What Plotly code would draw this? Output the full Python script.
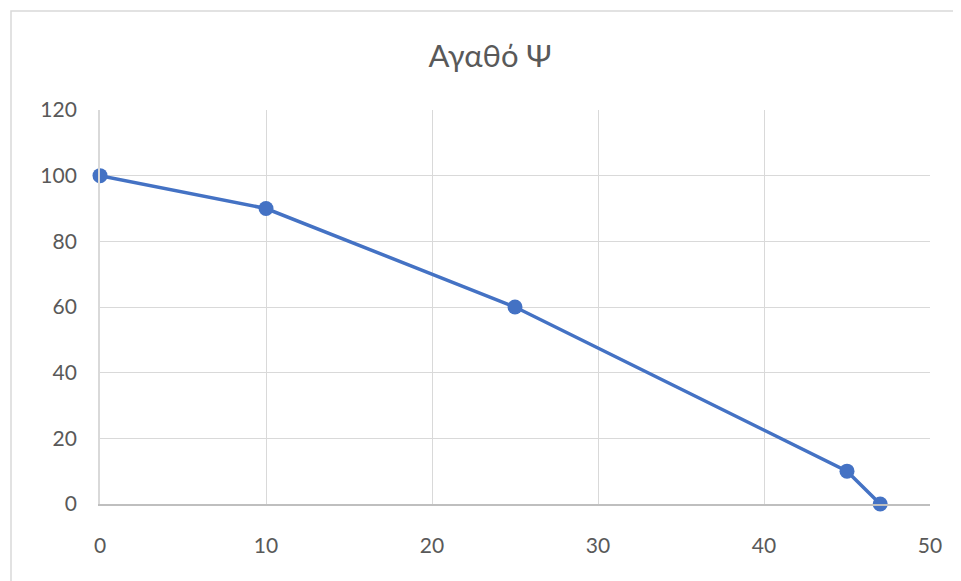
import plotly.graph_objects as go

x_vals = [0, 10, 25, 45, 47]
y_vals = [100, 90, 60, 10, 0]
title_text = "Αγαθό Ψ"

# page has an 8px body margin, so the figure is drawn 8px smaller and offset
OFF = 8
W, H = 961 - OFF, 581 - OFF
L, R, T, B = 100 - OFF, 31, 110 - OFF, 77
pw, ph = W - L - R, H - T - B

fig = go.Figure()
fig.add_trace(go.Scatter(
    x=x_vals, y=y_vals, mode="lines+markers",
    line=dict(color="#4472C4", width=3.5),
    marker=dict(color="#4472C4", size=15),
    cliponaxis=False,
))

def px_x(p):
    return (p - OFF - L) / pw

def px_y(p):
    return (H - B - (p - OFF)) / ph

fig.add_shape(type="rect", xref="paper", yref="paper",
              x0=px_x(11), x1=px_x(1100), y0=px_y(1100), y1=px_y(11),
              line=dict(color="#d9d9d9", width=1.5), fillcolor="rgba(0,0,0,0)", layer="below")

fig.update_layout(
    width=W, height=H,
    margin=dict(l=L, r=R, t=T, b=B),
    paper_bgcolor="white", plot_bgcolor="white",
    showlegend=False,
    font=dict(family="Lato", color="#595959"),
    title=dict(text=title_text, x=(490 - OFF) / W, xanchor="center",
               y=1 - (56 - OFF) / H, yanchor="middle",
               font=dict(size=31, color="#595959", family="Lato")),
)
fig.update_xaxes(range=[0, 50], dtick=10, showgrid=True, gridcolor="#d9d9d9", gridwidth=1.3,
                 showline=True, linecolor="#bfbfbf", linewidth=1.5, zeroline=False,
                 tickfont=dict(size=21, color="#595959"), ticks="", ticklabelstandoff=22)
fig.update_yaxes(range=[0, 120], dtick=20, showgrid=True, gridcolor="#d9d9d9", gridwidth=1.3,
                 showline=True, linecolor="#d9d9d9", linewidth=1.8, zeroline=False,
                 tickfont=dict(size=21, color="#595959"), ticks="", ticklabelstandoff=17)

fig.write_html("out.html")
